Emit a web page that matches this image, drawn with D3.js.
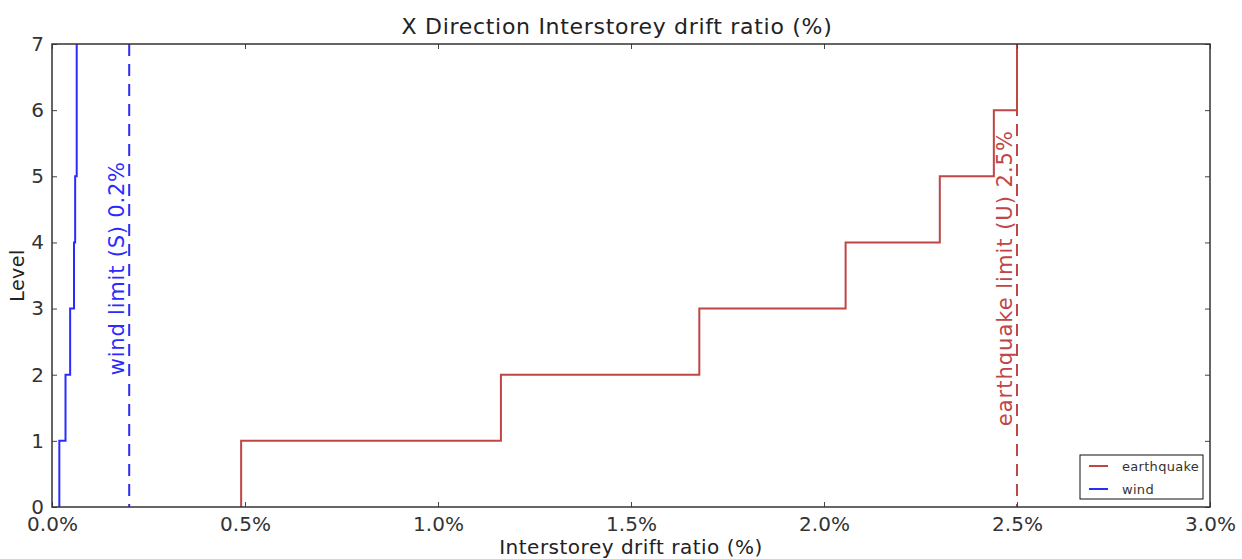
<!DOCTYPE html>
<html>
<head>
<meta charset="utf-8">
<script src="https://cdn.jsdelivr.net/npm/d3@7"></script>
<style>
  body { margin: 0; background: #fff; }
  svg { font-family: "DejaVu Sans", Verdana, sans-serif; }
</style>
</head>
<body>
<svg id="chart" width="1242" height="559"></svg>
<script>
// drift ratio (%) of each storey, level 0-1 up to 6-7
var levels = [0, 1, 2, 3, 4, 5, 6, 7];
var earthquakeDrift = [0.490, 1.163, 1.677, 2.056, 2.300, 2.440, 2.500];
var windDrift = [0.019, 0.035, 0.047, 0.057, 0.060, 0.064, 0.064];
var windLimit = 0.2;
var earthquakeLimit = 2.5;
var xTicks = [0, 0.5, 1.0, 1.5, 2.0, 2.5, 3.0];
var yTicks = [0, 1, 2, 3, 4, 5, 6, 7];

var svg = d3.select("#chart"),
    margin = { top: 44, right: 32, bottom: 52, left: 52 },
    width = +svg.attr("width") - margin.left - margin.right,
    height = +svg.attr("height") - margin.top - margin.bottom,
    g = svg.append("g").attr("transform", "translate(" + margin.left + "," + margin.top + ")");

var x = d3.scaleLinear().domain([0, 3.0]).range([0, width]);
var y = d3.scaleLinear().domain([0, 7]).range([height, 0]);

var eqColor = "#c04545", windColor = "#2b2bff";

// turn per-storey drift into step vertices
function stepPoints(drift) {
    var pts = [];
    drift.forEach(function(d, i) {
        pts.push([d, levels[i]]);
        pts.push([d, levels[i + 1]]);
    });
    return pts;
}

var line = d3.line()
    .x(function(d) { return x(d[0]); })
    .y(function(d) { return y(d[1]); });

// limit lines
g.append("line")
    .attr("x1", x(windLimit)).attr("x2", x(windLimit))
    .attr("y1", y(7)).attr("y2", y(0))
    .attr("stroke", windColor).attr("stroke-width", 2)
    .attr("stroke-dasharray", "12,8");
g.append("line")
    .attr("x1", x(earthquakeLimit)).attr("x2", x(earthquakeLimit))
    .attr("y1", y(7)).attr("y2", y(0))
    .attr("stroke", eqColor).attr("stroke-width", 2)
    .attr("stroke-dasharray", "12,8");

g.append("path")
    .datum(stepPoints(earthquakeDrift))
    .attr("fill", "none")
    .attr("stroke", eqColor)
    .attr("stroke-width", 2)
    .attr("d", line);

g.append("path")
    .datum(stepPoints(windDrift))
    .attr("fill", "none")
    .attr("stroke", windColor)
    .attr("stroke-width", 2)
    .attr("d", line);

// rotated limit labels
g.append("text")
    .attr("transform", "translate(" + (x(windLimit) - 5) + "," + y(3.61) + ") rotate(-90)")
    .attr("text-anchor", "middle")
    .attr("font-size", 21).attr("letter-spacing", 0.8)
    .attr("fill", windColor)
    .text("wind limit (S) 0.2%");
g.append("text")
    .attr("transform", "translate(" + (x(earthquakeLimit) - 5) + "," + y(3.46) + ") rotate(-90)")
    .attr("text-anchor", "middle")
    .attr("font-size", 21).attr("letter-spacing", 1)
    .attr("fill", eqColor)
    .text("earthquake limit (U) 2.5%");

// axes with inward ticks on all sides
var fmt = function(d) { return d.toFixed(1) + "%"; };
g.append("g")
    .attr("class", "axis")
    .attr("transform", "translate(0," + height + ")")
    .call(d3.axisBottom(x).tickValues(xTicks).tickFormat(fmt).tickSizeInner(-5).tickSizeOuter(0).tickPadding(10));
g.append("g")
    .attr("class", "axis")
    .call(d3.axisTop(x).tickValues(xTicks).tickFormat("").tickSizeInner(-5).tickSizeOuter(0));
g.append("g")
    .attr("class", "axis")
    .call(d3.axisLeft(y).tickValues(yTicks).tickFormat(d3.format("d")).tickSizeInner(-5).tickSizeOuter(0).tickPadding(8));
g.append("g")
    .attr("class", "axis")
    .attr("transform", "translate(" + width + ",0)")
    .call(d3.axisRight(y).tickValues(yTicks).tickFormat("").tickSizeInner(-5).tickSizeOuter(0));

g.selectAll(".axis .domain").attr("stroke", "none");
g.selectAll(".axis .tick line").attr("stroke", "#444");
g.selectAll(".axis .tick text").attr("fill", "#333").attr("font-size", 20).attr("font-family", "DejaVu Sans");

// frame
g.append("rect")
    .attr("width", width).attr("height", height)
    .attr("fill", "none").attr("stroke", "#333").attr("stroke-width", 1.5);

// titles
svg.append("text")
    .attr("x", 617).attr("y", 34)
    .attr("text-anchor", "middle").attr("font-size", 22).attr("letter-spacing", 0.7).attr("fill", "#222")
    .text("X Direction Interstorey drift ratio (%)");
svg.append("text")
    .attr("x", margin.left + width / 2).attr("y", 554)
    .attr("text-anchor", "middle").attr("font-size", 20).attr("letter-spacing", 0.5).attr("fill", "#222")
    .text("Interstorey drift ratio (%)");
svg.append("text")
    .attr("transform", "translate(24," + (margin.top + height / 2) + ") rotate(-90)")
    .attr("text-anchor", "middle").attr("font-size", 19).attr("letter-spacing", 0.5).attr("fill", "#222")
    .text("Level");

// legend
var series = [{ name: "earthquake", color: eqColor }, { name: "wind", color: windColor }];
var legend = g.append("g").attr("transform", "translate(" + (width - 130) + "," + (height - 52) + ")");
legend.append("rect")
    .attr("width", 123).attr("height", 44)
    .attr("fill", "#fff").attr("stroke", "#111").attr("stroke-width", 1);
var items = legend.selectAll("g.item")
    .data(series)
    .enter().append("g")
    .attr("class", "item")
    .attr("transform", function(d, i) { return "translate(0," + (11 + i * 23) + ")"; });
items.append("line")
    .attr("x1", 9).attr("x2", 28)
    .attr("stroke", function(d) { return d.color; }).attr("stroke-width", 2);
items.append("text")
    .attr("x", 42).attr("dy", "0.35em")
    .attr("font-size", 13).attr("letter-spacing", 0.3).attr("fill", "#333")
    .text(function(d) { return d.name; });
</script>
</body>
</html>
